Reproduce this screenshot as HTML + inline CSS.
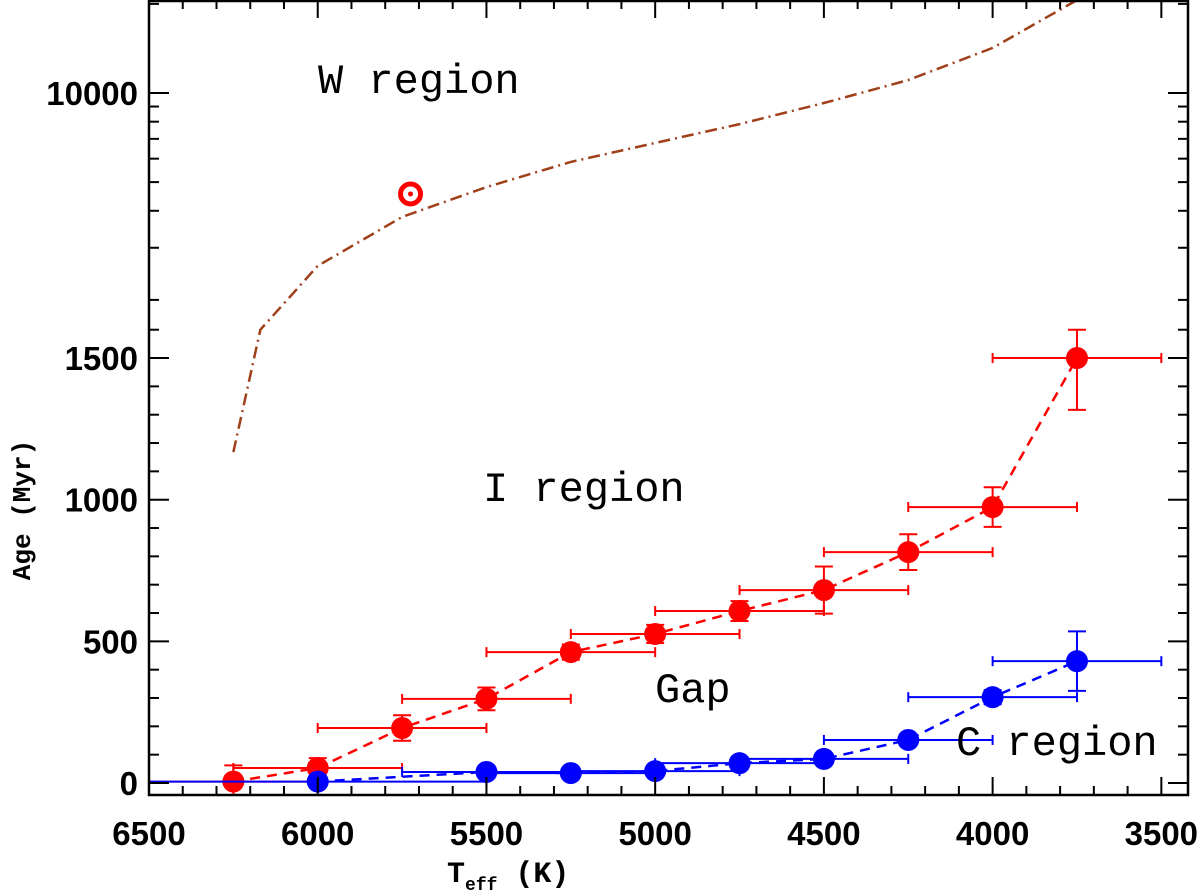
<!DOCTYPE html>
<html><head><meta charset="utf-8"><style>
body{margin:0;background:#fff}
svg{display:block}
text{font-family:"Liberation Serif",serif}
.tk{font-family:"Liberation Sans",sans-serif;font-size:33px;font-weight:bold}
.rg{font-family:"Liberation Mono",monospace;font-size:42px}
.ti{font-family:"Liberation Mono",monospace;font-weight:bold}
</style></head><body>
<svg id="c" width="1200" height="893"></svg>
<script>
const teffRed=[6250,6000,5750,5500,5250,5000,4750,4500,4250,4000,3750];
const ageRed=[5,53,194,297,462,526,607,681,815,974,1500];
const ageRedErrUp=[57,35,45,40,27,32,35,83,63,70,100];
const ageRedErrLo=[57,35,45,40,27,32,35,83,63,70,183];
const teffRedErr=[250,250,250,250,250,250,250,250,250,250,250];
const teffBlue=[6000,5500,5250,5000,4750,4500,4250,4000,3750];
const ageBlue=[5,39,35,42,70,85,152,303,430];
const ageBlueErr=[10,15,12,15,20,18,15,25,105];
const teffBlueErr=[500,250,250,250,250,250,250,250,250];
const teffW=[6250,6170,6000,5750,5500,5250,5000,4750,4500,4250,4000,3750];
const ageW=[1168,1600,2606,3812,4810,5850,6780,7850,9250,11060,14200,20600];
const sunTeff=5725, sunAge=4560;
const xTicks=[6500,6000,5500,5000,4500,4000,3500];
const yTicks=[0,500,1000,1500,10000];

const NS="http://www.w3.org/2000/svg", svg=document.getElementById('c');
const L=149,R=1188,T=0,B=795;
function X(t){return L+(6500-t)*(R-L)/(6500-3421);}
function Y(a){ if(a<=1600) return 783-0.2833*a; return 93+296*(4-Math.log10(a)); }
function el(tag,attrs,name,parent){const e=document.createElementNS(NS,tag);for(const k in attrs)e.setAttribute(k,attrs[k]);


(parent||svg).appendChild(e);return e;}
const clip=el('clipPath',{id:'cp'},'plot-clip');el('rect',{x:L,y:T,width:R-L,height:B-T},'clip-rect',clip);
const g=el('g',{'clip-path':'url(#cp)'},'plot-area');
el('polyline',{points:teffW.map((t,i)=>X(t)+','+Y(ageW[i])).join(' '),fill:'none',stroke:'#a0401a','stroke-width':2.5,'stroke-dasharray':'12,5,2,5'},'w-boundary-line',g);
teffRed.forEach((t,i)=>{const x=X(t),y=Y(ageRed[i]);
 el('line',{x1:X(t+teffRedErr[i]),x2:X(t-teffRedErr[i]),y1:y,y2:y,stroke:'red','stroke-width':2},'red-xerr',g);
 [X(t+teffRedErr[i]),X(t-teffRedErr[i])].forEach(xx=>el('line',{x1:xx,x2:xx,y1:y-5,y2:y+5,stroke:'red','stroke-width':2},'red-xerr-cap',g));
 const y1=Y(ageRed[i]+ageRedErrUp[i]),y2=Y(ageRed[i]-ageRedErrLo[i]);
 el('line',{x1:x,x2:x,y1:y1,y2:y2,stroke:'red','stroke-width':2},'red-yerr',g);
 [y1,y2].forEach(yy=>el('line',{x1:x-9,x2:x+9,y1:yy,y2:yy,stroke:'red','stroke-width':2},'red-yerr-cap',g));});
el('polyline',{points:teffRed.map((t,i)=>X(t)+','+Y(ageRed[i])).join(' '),fill:'none',stroke:'red','stroke-width':2.5,'stroke-dasharray':'10,7'},'red-dashed-line',g);
teffRed.forEach((t,i)=>el('circle',{cx:X(t),cy:Y(ageRed[i]),r:11,fill:'red'},'red-point',g));
teffBlue.forEach((t,i)=>{const x=X(t),y=Y(ageBlue[i]);
 el('line',{x1:X(t+teffBlueErr[i]),x2:X(t-teffBlueErr[i]),y1:y,y2:y,stroke:'blue','stroke-width':2},'blue-xerr',g);
 [X(t+teffBlueErr[i]),X(t-teffBlueErr[i])].forEach(xx=>el('line',{x1:xx,x2:xx,y1:y-5,y2:y+5,stroke:'blue','stroke-width':2},'blue-xerr-cap',g));
 const y1=Y(ageBlue[i]+ageBlueErr[i]),y2=Y(ageBlue[i]-ageBlueErr[i]);
 el('line',{x1:x,x2:x,y1:y1,y2:y2,stroke:'blue','stroke-width':2},'blue-yerr',g);
 [y1,y2].forEach(yy=>el('line',{x1:x-9,x2:x+9,y1:yy,y2:yy,stroke:'blue','stroke-width':2},'blue-yerr-cap',g));});
el('polyline',{points:teffBlue.map((t,i)=>X(t)+','+Y(ageBlue[i])).join(' '),fill:'none',stroke:'blue','stroke-width':2.5,'stroke-dasharray':'10,7'},'blue-dashed-line',g);
teffBlue.forEach((t,i)=>el('circle',{cx:X(t),cy:Y(ageBlue[i]),r:11,fill:'blue'},'blue-point',g));
el('circle',{cx:X(sunTeff),cy:Y(sunAge),r:10,fill:'none',stroke:'red','stroke-width':5},'sun-symbol',g);
el('circle',{cx:X(sunTeff),cy:Y(sunAge),r:2.5,fill:'red'},'sun-dot',g);
el('rect',{x:L,y:T+1,width:R-L,height:B-T-1,fill:'none',stroke:'#000','stroke-width':2.5},'plot-frame');
for(let t=6500;t>=3421;t-=100){const x=X(t),maj=t%500===0;
 el('line',{x1:x,x2:x,y1:B,y2:B-(maj?18:9),stroke:'#000','stroke-width':2},'x-tick');
 el('line',{x1:x,x2:x,y1:T,y2:T+(maj?18:9),stroke:'#000','stroke-width':2},'x-tick-top');}
xTicks.forEach(t=>{const e=el('text',{x:X(t),y:845,'text-anchor':'middle',class:'tk'},'x-tick-label');e.textContent=t;});
for(let a=0;a<=1600;a+=100){const y=Y(a),maj=a%500===0;
 el('line',{x1:L,x2:L+(maj?20:10),y1:y,y2:y,stroke:'#000','stroke-width':2},'y-tick');
 el('line',{x1:R,x2:R-(maj?20:10),y1:y,y2:y,stroke:'#000','stroke-width':2},'y-tick-right');}
[2000,3000,4000,5000,6000,7000,8000,9000,10000,20000].forEach(a=>{const y=Y(a),maj=a===10000;
 el('line',{x1:L,x2:L+(maj?20:10),y1:y,y2:y,stroke:'#000','stroke-width':2},'y-tick');
 el('line',{x1:R,x2:R-(maj?20:10),y1:y,y2:y,stroke:'#000','stroke-width':2},'y-tick-right');});
yTicks.forEach(a=>{const e=el('text',{x:138,y:Y(a)+12,'text-anchor':'end',class:'tk'},'y-tick-label');e.textContent=a;});
let e=el('text',{x:0,y:0,transform:'translate(30,510) rotate(-90)','text-anchor':'middle','font-size':26,class:'ti'},'y-axis-title');e.textContent='Age (Myr)';
e=el('text',{x:447,y:882,'font-size':30,class:'ti'},'x-axis-title');
e.innerHTML='T<tspan font-size="18" dy="8">eff</tspan><tspan dy="-8"> (K)</tspan>';
[['W region',318,93,'w-region-label'],['I region',483,501,'i-region-label'],['Gap',655,702,'gap-label'],['C region',956,755,'c-region-label']].forEach(d=>{
 const t=el('text',{x:d[1],y:d[2],class:'rg'},d[3]);t.textContent=d[0];});
</script>
</body></html>
